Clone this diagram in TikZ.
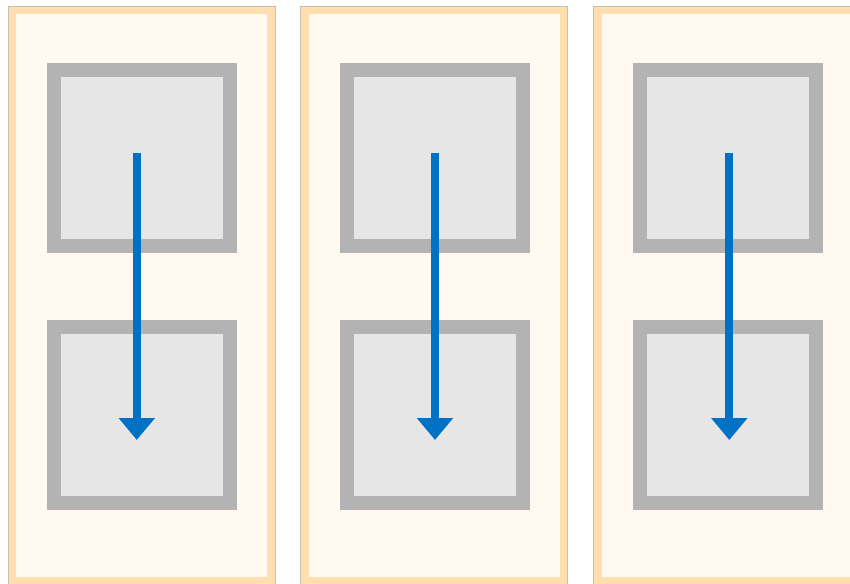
\documentclass[tikz,border=0pt]{standalone}
\usetikzlibrary{arrows.meta}
\definecolor{panelfill}{HTML}{FFF9F2}
\definecolor{panelband}{HTML}{FFDFAF}
\definecolor{paneledge}{HTML}{C8BFAF}
\definecolor{boxline}{HTML}{B3B3B3}
\definecolor{boxfill}{HTML}{E6E6E6}
\definecolor{flow}{HTML}{0072C6}
\tikzset{
  panelouter/.style={fill=panelband, draw=paneledge, line width=1pt},
  panelinner/.style={fill=panelfill},
  graybox/.style={draw=boxline, fill=boxfill, line width=14pt, minimum size=176pt, inner sep=0pt, outer sep=0pt},
  flowarrow/.style={draw=flow, line width=8pt, -{Triangle[width=35pt,length=22pt]}}
}
\begin{document}
\begin{tikzpicture}[x=1pt,y=-1pt]
\useasboundingbox (0,0) rectangle (850,583);
\foreach \i/\px/\ax in {1/0/136.8, 2/292.5/435, 3/585.5/729.3} {
  \path[panelouter] (8+\px,7) rectangle (275+\px,585);
  \path[panelinner] (16+\px,14.5) rectangle (267+\px,577);
  \node[graybox] (top\i) at (142+\px,158) {};
  \node[graybox] (bot\i) at (142+\px,415) {};
  \coordinate (start\i) at (\ax,153);
  \coordinate (end\i) at (\ax,440);
  \draw[flowarrow] (start\i) -- (end\i);
}
\end{tikzpicture}
\end{document}
